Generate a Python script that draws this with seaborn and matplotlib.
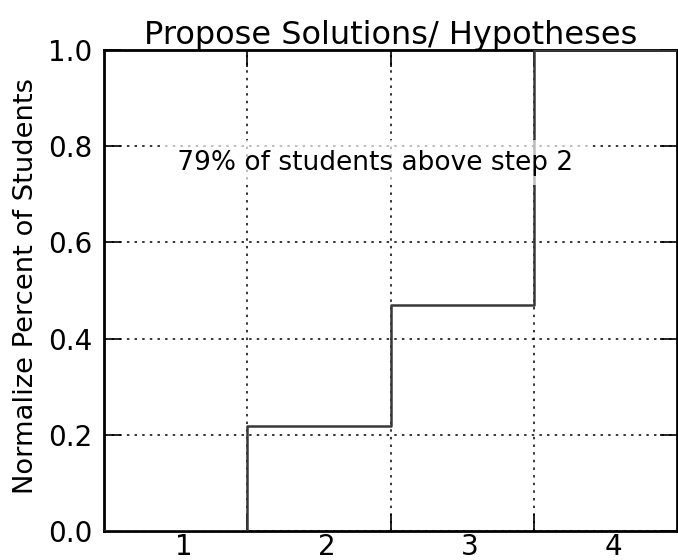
import numpy as np
import pandas as pd
import matplotlib
matplotlib.use("Agg")
import matplotlib.pyplot as plt
import seaborn as sns

# ---- data ----
step_labels = ["1", "2", "3", "4"]
bin_edges = [0.5, 1.5, 2.5, 3.5, 4.5]
cumulative_fraction = [0.0, 0.218, 0.469, 1.0, 1.0]
y_ticks = [0.0, 0.2, 0.4, 0.6, 0.8, 1.0]
annotation = "79% of students above step 2"
title = "Propose Solutions/ Hypotheses"
ylabel = "Normalize Percent of Students"

sns.set_style("ticks", {
    "xtick.direction": "in",
    "ytick.direction": "in",
    "axes.edgecolor": "black",
    "text.color": "black",
    "axes.labelcolor": "black",
    "xtick.color": "black",
    "ytick.color": "black",
})
plt.rcParams["font.family"] = ["DejaVu Sans"]

fig = plt.figure(figsize=(6.78, 5.6), dpi=100)
ax = fig.add_axes([104 / 678, 1 - 531 / 560, (677 - 104) / 678, (531 - 50) / 560])

df = pd.DataFrame({"x": bin_edges, "y": cumulative_fraction})
sns.lineplot(data=df, x="x", y="y", ax=ax, drawstyle="steps-post",
             color="#383838", linewidth=1.8, zorder=3)

ax.set_xlim(bin_edges[0], bin_edges[-1])
ax.set_ylim(0, 1)

# major ticks at bin boundaries (with grid), labels on minor ticks
ax.set_xticks(bin_edges[1:-1])
ax.set_xticklabels([])
label_pos = [i + 1 + 0.055 for i in range(len(step_labels))]
ax.set_xticks(label_pos, minor=True)
ax.set_xticklabels(step_labels, minor=True)
ax.set_yticks(y_ticks)
ax.set_yticklabels([f"{v:.1f}" for v in y_ticks])

ax.tick_params(axis="both", which="major", direction="in", length=12, width=1.2,
               top=True, right=True, labelsize=20, pad=8.5,
               color="black", labelcolor="black")
ax.tick_params(axis="x", which="minor", length=0, labelsize=20, pad=1.5,
               labelcolor="black")

ax.grid(True, which="major", linestyle=(0, (1.6, 3.4)), color="black",
        linewidth=1.1)
for s in ax.spines.values():
    s.set_linewidth(2.0)
    s.set_color("black")
    s.set_visible(True)

ax.set_xlabel("")
ax.set_ylabel(ylabel, fontsize=19.7, color="black")
ax.yaxis.set_label_coords(-0.114, 0.51)
ax.set_title(title, fontsize=23, pad=4.6, color="black")

ax.text(2.396, 0.766, " " + annotation + " ", fontsize=19, ha="center",
        va="center", zorder=5, color="black",
        bbox=dict(facecolor="white", edgecolor="none", alpha=0.67, pad=7))

fig.savefig("out.png", dpi=100)
